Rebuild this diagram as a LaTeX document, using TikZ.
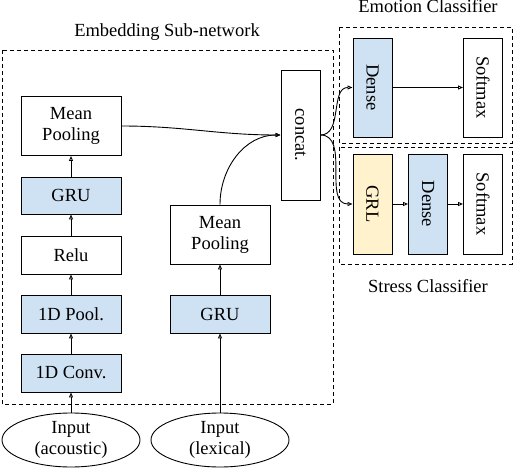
\documentclass[tikz,border=0pt]{standalone}
\usepackage{fontspec}
\setmainfont{Liberation Serif}
\usepackage{graphicx}
\usetikzlibrary{arrows.meta,shapes.geometric}
\definecolor{lblue}{RGB}{207,226,243}
\definecolor{lyellow}{RGB}{255,242,204}
\tikzset{
  layer/.style={draw, line width=0.9pt, minimum width=100pt, minimum height=38pt, align=center, inner sep=1pt},
  vlayer/.style={draw, line width=0.9pt, minimum width=39pt, minimum height=99pt, inner sep=1pt},
  inp/.style={draw, ellipse, line width=0.9pt, minimum width=138pt, minimum height=54pt, align=center, inner sep=0pt},
  group/.style={draw, line width=0.9pt, dash pattern=on 4pt off 3pt},
  arr/.style={-{Triangle[open,length=5pt,width=4pt]}, line width=0.9pt},
}
\begin{document}
\begin{tikzpicture}[x=1pt,y=-1pt,font=\fontsize{18.5}{21}\selectfont]
  \useasboundingbox (0,0) rectangle (514,468);
  % dashed groups and titles
  \draw[group] (2,50) rectangle (333,404);
  \draw[group] (339,27) rectangle (512,143);
  \draw[group] (339,147) rectangle (512,264);
  \node[anchor=base] (ttlEmb) at (167,37) {Embedding Sub-network};
  \node[anchor=base] (ttlEmo) at (428,13) {Emotion Classifier};
  \node[anchor=base] (ttlStr) at (428,292) {Stress Classifier};
  % acoustic branch
  \node[inp] (inA) at (71,440) {Input\\(acoustic)};
  \node[layer, fill=lblue] (conv) at (71,373) {1D Conv.};
  \node[layer, fill=lblue] (pool) at (71,314) {1D Pool.};
  \node[layer] (relu) at (71,255) {Relu};
  \node[layer, fill=lblue, minimum height=37pt] (gruA) at (71,195.5) {GRU};
  \node[layer, minimum height=59pt] (meanA) at (71,126) {Mean\\Pooling};
  % lexical branch
  \node[inp] (inB) at (220,440) {Input\\(lexical)};
  \node[layer, fill=lblue] (gruB) at (220,314) {GRU};
  \node[layer, minimum height=59pt] (meanB) at (220,234.5) {Mean\\Pooling};
  % fusion and classifiers
  \node[vlayer, minimum height=130pt] (cat) at (300.5,135) {\rotatebox{-90}{concat.}};
  \node[vlayer, fill=lblue] (emoDense) at (372.5,87.5) {\rotatebox{-90}{Dense}};
  \node[vlayer] (emoSoft) at (483,87.5) {\rotatebox{-90}{Softmax}};
  \node[vlayer, fill=lyellow, minimum height=100pt] (grl) at (372.5,204) {\rotatebox{-90}{GRL}};
  \node[vlayer, fill=lblue, minimum height=100pt] (strDense) at (428,204) {\rotatebox{-90}{Dense}};
  \node[vlayer, minimum height=100pt] (strSoft) at (483,204) {\rotatebox{-90}{Softmax}};
  % connectors
  \draw[arr] (inA) -- (conv);
  \draw[arr] (conv) -- (pool);
  \draw[arr] (pool) -- (relu);
  \draw[arr] (relu) -- (gruA);
  \draw[arr] (gruA) -- (meanA);
  \draw[arr] (inB) -- (gruB);
  \draw[arr] (gruB) -- (meanB);
  \draw[arr] (meanA.east) to[out=0, in=180] (cat.west);
  \draw[arr] (meanB.north) to[out=90, in=180] (cat.west);
  \draw[arr] (cat.east) to[out=0, in=180] (emoDense.west);
  \draw[arr] (cat.east) to[out=0, in=180] (grl.west);
  \draw[arr] (emoDense) -- (emoSoft);
  \draw[arr] (grl) -- (strDense);
  \draw[arr] (strDense) -- (strSoft);
\end{tikzpicture}
\end{document}
